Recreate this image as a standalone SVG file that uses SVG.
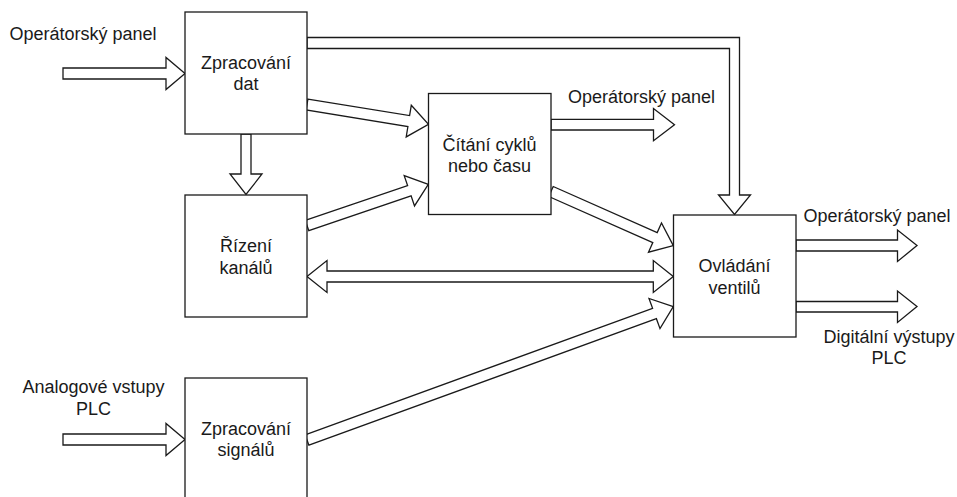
<svg xmlns="http://www.w3.org/2000/svg" width="957" height="497" viewBox="0 0 957 497">
<style>
.bg{fill:#ffffff}
.arrow{fill:#ffffff;stroke:#1a1a1a;stroke-width:1.3;stroke-linejoin:miter}
.box{fill:#ffffff;stroke:#1a1a1a;stroke-width:1.3}
text{font-family:"Liberation Sans",Arial,sans-serif;font-size:18px;fill:#1a1a1a}
.c{text-anchor:middle}
</style>
<rect class="bg" x="0" y="0" width="957" height="497"/>
<g id="connectors">
<polygon class="arrow" points="63,68 166,68 166,57.5 185,73.5 166,89.5 166,79 63,79"/>
<polygon class="arrow" points="241,134 241,174 230,174 246,194.5 262,174 251,174 251,134"/>
<polygon class="arrow" points="307,37.5 739.5,37.5 739.5,195 750.5,195 734.5,214.5 718.5,195 729.5,195 729.5,48.5 307,48.5"/>
<polygon class="arrow" points="307.9,99.1 409.6,115.6 411.3,105.3 428.5,124.3 406.2,136.9 407.9,126.5 306.1,109.9"/>
<polygon class="arrow" points="305.2,220.3 407.6,185.5 404.2,175.6 428.3,184.3 414.5,205.9 411.1,195.9 308.8,230.7"/>
<polygon class="arrow" points="551,119.3 653.5,119.3 653.5,108.5 674.5,124.7 653.5,140.7 653.5,130 551,130"/>
<polygon class="arrow" points="553.2,186.5 657.2,232.6 661.5,223 673.3,245.7 648.5,252.2 652.8,242.6 548.8,196.5"/>
<polygon class="arrow" points="307,276.5 327,260.5 327,271 653.3,271 653.3,260.5 673.3,276.5 653.3,292.5 653.3,282 327,282 327,292.5"/>
<polygon class="arrow" points="305.1,434.8 652.6,308.4 649,298.5 673.3,306.7 660,328.6 656.4,318.7 308.9,445.2"/>
<polygon class="arrow" points="796,240 897.5,240 897.5,230 917,245.5 897.5,261.5 897.5,251 796,251"/>
<polygon class="arrow" points="796,301.5 897.5,301.5 897.5,291 917,306.5 897.5,322.5 897.5,312 796,312"/>
<polygon class="arrow" points="63,434 166,434 166,423.5 185,439.5 166,455.5 166,445 63,445"/>
</g>
<g id="node-zpracovani-dat">
<rect class="box" x="185" y="12" width="122" height="122"/>
<text class="c" x="246" y="68.5">Zpracování</text>
<text class="c" x="246" y="90">dat</text>
</g>
<g id="node-rizeni-kanalu">
<rect class="box" x="185" y="195" width="122" height="122"/>
<text class="c" x="246" y="252">Řízení</text>
<text class="c" x="246" y="273.5">kanálů</text>
</g>
<g id="node-citani">
<rect class="box" x="428.5" y="93.5" width="122.5" height="121"/>
<text class="c" x="489.5" y="150.5">Čítání cyklů</text>
<text class="c" x="489.5" y="172">nebo času</text>
</g>
<g id="node-ovladani">
<rect class="box" x="673.5" y="215" width="122.5" height="122"/>
<text class="c" x="734.5" y="272">Ovládání</text>
<text class="c" x="734.5" y="293.5">ventilů</text>
</g>
<g id="node-zpracovani-signalu">
<rect class="box" x="185" y="378" width="122" height="125"/>
<text class="c" x="246" y="434.5">Zpracování</text>
<text class="c" x="246" y="456">signálů</text>
</g>
<g id="labels">
<text x="9.5" y="39.5">Operátorský panel</text>
<text x="568" y="102.5">Operátorský panel</text>
<text x="803.5" y="221.5">Operátorský panel</text>
<text class="c" x="889" y="343">Digitální výstupy</text>
<text class="c" x="889" y="364">PLC</text>
<text class="c" x="93.5" y="393">Analogové vstupy</text>
<text class="c" x="93.5" y="414.5">PLC</text>
</g>
</svg>
